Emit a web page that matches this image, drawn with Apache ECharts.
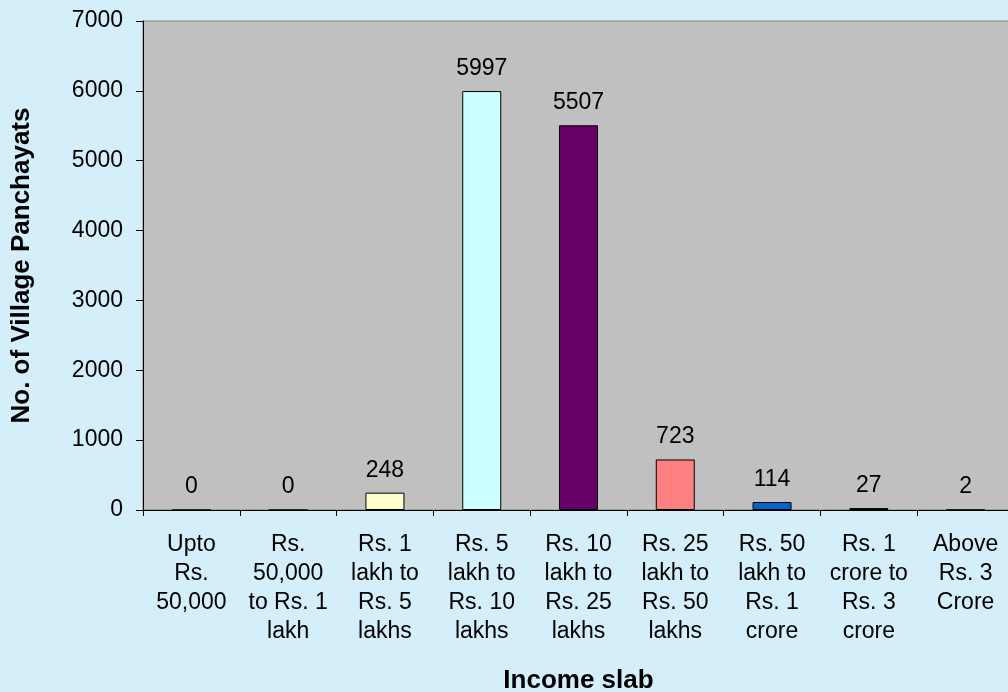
<!DOCTYPE html>
<html>
<head>
<meta charset="utf-8">
<script src="https://cdn.jsdelivr.net/npm/echarts@6/dist/echarts.min.js"></script>
<style>
  html, body { margin: 0; padding: 0; background: #D4EEFA; }
  #chart { width: 1008px; height: 692px; }
</style>
</head>
<body>
<div id="chart"></div>
<script>
  // income slabs (x categories)
  const slabs = [
    'Upto\nRs.\n50,000',
    'Rs.\n50,000\nto Rs. 1\nlakh',
    'Rs. 1\nlakh to\nRs. 5\nlakhs',
    'Rs. 5\nlakh to\nRs. 10\nlakhs',
    'Rs. 10\nlakh to\nRs. 25\nlakhs',
    'Rs. 25\nlakh to\nRs. 50\nlakhs',
    'Rs. 50\nlakh to\nRs. 1\ncrore',
    'Rs. 1\ncrore to\nRs. 3\ncrore',
    'Above\nRs. 3\nCrore'
  ]
  const panchayats = [0, 0, 248, 5997, 5507, 723, 114, 27, 2]
  const barColors = ['#FFFFCC', '#FFFFCC', '#FFFFCC', '#CCFFFF', '#660066', '#FF8080', '#0066CC', '#000000', '#000000']

  const font = '"Liberation Sans", Arial, sans-serif'
  const chart = echarts.init(document.getElementById('chart'))

  const option = {
    backgroundColor: '#D4EEFA',
    textStyle: { fontFamily: font },
    grid: {
      left: 143,
      top: 21,
      right: -6,
      bottom: 182,
      outerBoundsMode: 'none',
      containLabel: false,
      show: true,
      backgroundColor: '#C0C0C0',
      borderColor: '#808080',
      borderWidth: 1
    },
    xAxis: {
      type: 'category',
      data: slabs,
      name: 'Income slab',
      nameLocation: 'middle',
      nameGap: 158,
      nameTextStyle: { fontSize: 26, fontWeight: 'bold', color: '#000', fontFamily: font },
      axisLine: { show: true, lineStyle: { color: '#000', width: 1 } },
      axisTick: { show: true, length: 6, lineStyle: { color: '#000' } },
      axisLabel: {
        interval: 0,
        fontSize: 23,
        lineHeight: 29,
        margin: 20,
        color: '#000',
        fontFamily: font
      }
    },
    yAxis: {
      type: 'value',
      min: 0,
      max: 7000,
      interval: 1000,
      name: 'No. of Village Panchayats',
      nameLocation: 'middle',
      nameGap: 108,
      nameRotate: 90,
      nameTextStyle: { fontSize: 26, fontWeight: 'bold', color: '#000', fontFamily: font },
      splitLine: { show: false },
      axisLine: { show: true, lineStyle: { color: '#000', width: 1 } },
      axisTick: { show: true, length: 7, lineStyle: { color: '#000' } },
      axisLabel: { fontSize: 23, margin: 20, color: '#000', fontFamily: font, formatter: v => String(v) }
    },
    series: [
      {
        type: 'bar',
        barWidth: 39,
        data: panchayats.map((v, i) => ({
          value: v,
          itemStyle: { color: barColors[i], borderColor: '#000', borderWidth: 1 }
        })),
        label: {
          show: true,
          position: 'top',
          distance: 11,
          fontSize: 23,
          color: '#000',
          fontFamily: font
        }
      }
    ]
  }
  chart.setOption(option)
</script>
</body>
</html>
